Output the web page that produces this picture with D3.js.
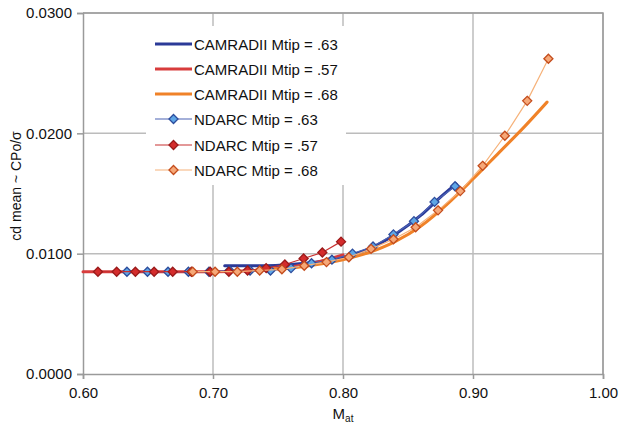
<!DOCTYPE html>
<html>
<head>
<meta charset="utf-8">
<script src="https://cdn.jsdelivr.net/npm/d3@7"></script>
<style>
  html, body { margin: 0; padding: 0; background: #fff; }
  svg { display: block; font-family: "Liberation Sans", Arial, Helvetica, sans-serif; }
</style>
</head>
<body>
<svg id="chart" width="620" height="427"></svg>
<script>
// CAMRADII (thick curves)
const camMach63 = [0.709, 0.74, 0.76, 0.78, 0.80, 0.82, 0.84, 0.86, 0.875, 0.887];
const camCd63   = [0.0090, 0.0090, 0.0091, 0.0093, 0.0097, 0.0104, 0.0116, 0.0132, 0.0147, 0.0158];
const camMach57 = [0.60, 0.65, 0.70, 0.73, 0.76, 0.78, 0.80];
const camCd57   = [0.0085, 0.0085, 0.0085, 0.0086, 0.0089, 0.0093, 0.0099];
const camMach68 = [0.74, 0.76, 0.78, 0.80, 0.82, 0.84, 0.86, 0.88, 0.90, 0.92, 0.94, 0.957];
const camCd68   = [0.0087, 0.0088, 0.0091, 0.0095, 0.0101, 0.0110, 0.0123, 0.0141, 0.0162, 0.0184, 0.0206, 0.0226];

// NDARC (markers with thin connecting lines)
const ndMach63 = [0.6338, 0.6496, 0.6654, 0.6811, 0.6969, 0.7127, 0.7285, 0.7442, 0.7600, 0.7758, 0.7915, 0.8073, 0.8231, 0.8388, 0.8546, 0.8704, 0.8862];
const ndCd63   = [0.0085, 0.0085, 0.0085, 0.0085, 0.0085, 0.0086, 0.0086, 0.0086, 0.0088, 0.0092, 0.0095, 0.0100, 0.0106, 0.0116, 0.0127, 0.0143, 0.0156];
const ndMach57 = [0.6115, 0.6259, 0.6403, 0.6547, 0.6690, 0.6834, 0.6978, 0.7122, 0.7266, 0.7409, 0.7553, 0.7697, 0.7841, 0.7985];
const ndCd57   = [0.0085, 0.0085, 0.0085, 0.0085, 0.0085, 0.0085, 0.0085, 0.0085, 0.0086, 0.0088, 0.0091, 0.0096, 0.0101, 0.0110];
const ndMach68 = [0.6844, 0.7016, 0.7187, 0.7359, 0.7530, 0.7702, 0.7873, 0.8045, 0.8216, 0.8388, 0.8559, 0.8731, 0.8902, 0.9074, 0.9245, 0.9417, 0.9580];
const ndCd68   = [0.0085, 0.0085, 0.0085, 0.0086, 0.0087, 0.0090, 0.0093, 0.0097, 0.0104, 0.0112, 0.0122, 0.0136, 0.0152, 0.0173, 0.0198, 0.0227, 0.0262];

const xTicks = [0.60, 0.70, 0.80, 0.90, 1.00];
const yTicks = [0.0000, 0.0100, 0.0200, 0.0300];

const legendLabels = [
  "CAMRADII Mtip = .63", "CAMRADII Mtip = .57", "CAMRADII Mtip = .68",
  "NDARC Mtip = .63", "NDARC Mtip = .57", "NDARC Mtip = .68"
];

const zip = (xs, ys) => xs.map((x, i) => ({ x, y: ys[i] }));

const series = [
  { kind: "cam", data: zip(camMach63, camCd63), stroke: "#2b3a98" },
  { kind: "cam", data: zip(camMach57, camCd57), stroke: "#d83c3c" },
  { kind: "cam", data: zip(camMach68, camCd68), stroke: "#f08228" },
  { kind: "nd", data: zip(ndMach63, ndCd63), stroke: "#4a62b4", fill: "#5ea6e6", edge: "#2c4c9c" },
  { kind: "nd", data: zip(ndMach57, ndCd57), stroke: "#c83232", fill: "#d42c2c", edge: "#9a1a1a" },
  { kind: "nd", data: zip(ndMach68, ndCd68), stroke: "#f6b27a", fill: "#f6a878", edge: "#c44c1c" }
];

const margin = { left: 83, right: 17, top: 13, bottom: 53 };
const W = 620, H = 427;
const svg = d3.select("#chart");

const x = d3.scaleLinear().domain([0.6, 1.0]).range([margin.left, W - margin.right]);
const y = d3.scaleLinear().domain([0, 0.03]).range([H - margin.bottom, margin.top]);

const gridColor = "#bcbcbc";
const axisColor = "#9a9a9a";

// gridlines
svg.append("g").selectAll("line").data(xTicks.slice(1)).join("line")
  .attr("x1", d => x(d)).attr("x2", d => x(d))
  .attr("y1", y(0)).attr("y2", y(0.03))
  .attr("stroke", gridColor).attr("stroke-width", 1.5);
svg.append("g").selectAll("line").data(yTicks.slice(1)).join("line")
  .attr("x1", x(0.6)).attr("x2", x(1.0))
  .attr("y1", d => y(d)).attr("y2", d => y(d))
  .attr("stroke", gridColor).attr("stroke-width", 1.5);

// axes
const xAxis = d3.axisBottom(x).tickValues(xTicks).tickFormat(d3.format(".2f")).tickSize(5).tickPadding(8);
const yAxis = d3.axisLeft(y).tickValues(yTicks).tickFormat(d3.format(".4f")).tickSize(6).tickPadding(5);

const gx = svg.append("g").attr("transform", `translate(0,${y(0)})`).call(xAxis);
const gy = svg.append("g").attr("transform", `translate(${x(0.6)},0)`).call(yAxis);
[gx, gy].forEach(g => {
  g.select(".domain").attr("stroke", axisColor).attr("stroke-width", 1.5);
  g.selectAll(".tick line").attr("stroke", axisColor).attr("stroke-width", 1.5);
  g.selectAll(".tick text").attr("fill", "#111").style("font-size", "15px")
    .style("font-family", '"Liberation Sans", Arial, sans-serif');
});

// legend background (hides gridlines behind it)
const lg = svg.append("g");
lg.append("rect").attr("x", 146).attr("y", 26).attr("width", 200).attr("height", 159).attr("fill", "#fff");

// series
const lineCurve = d3.line().x(d => x(d.x)).y(d => y(d.y)).curve(d3.curveMonotoneX);
const lineStraight = d3.line().x(d => x(d.x)).y(d => y(d.y));
const diamond = d3.symbol().type(d3.symbolDiamond2).size(52);

series.filter(s => s.kind === "cam").forEach(s => {
  svg.append("path").datum(s.data).attr("d", lineCurve)
    .attr("fill", "none").attr("stroke", s.stroke).attr("stroke-width", 3)
    .attr("stroke-linejoin", "round").attr("stroke-linecap", "round");
});
series.filter(s => s.kind === "nd").forEach(s => {
  svg.append("path").datum(s.data).attr("d", lineStraight)
    .attr("fill", "none").attr("stroke", s.stroke).attr("stroke-width", 1.2);
  svg.append("g").selectAll("path").data(s.data).join("path")
    .attr("transform", d => `translate(${x(d.x)},${y(d.y)})`)
    .attr("d", diamond)
    .attr("fill", s.fill).attr("stroke", s.edge).attr("stroke-width", 1.3);
});

// plot frame (top and right)
svg.append("path")
  .attr("d", `M${x(0.6)},${y(0.03)}H${x(1.0)}V${y(0)}`)
  .attr("fill", "none").attr("stroke", axisColor).attr("stroke-width", 1.5);

// legend entries
const rowY = [44, 69, 94, 119, 145, 170];
legendLabels.forEach((lab, i) => {
  const s = series[i];
  const ry = rowY[i];
  const g = lg.append("g");
  g.append("line").attr("x1", 155).attr("x2", 192).attr("y1", ry).attr("y2", ry)
    .attr("stroke", s.stroke).attr("stroke-width", s.kind === "cam" ? 3 : 1.2);
  if (s.kind === "nd") {
    g.append("path").attr("transform", `translate(173.5,${ry})`).attr("d", diamond)
      .attr("fill", s.fill).attr("stroke", s.edge).attr("stroke-width", 1.3);
  }
  g.append("text").attr("x", 194).attr("y", ry + 5.5).text(lab)
    .attr("fill", "#111").style("font-size", "15px");
});

// axis titles
const xt = svg.append("text").attr("x", x(0.8)).attr("y", 419).attr("text-anchor", "middle")
  .attr("fill", "#111").style("font-size", "15px");
xt.append("tspan").text("M");
xt.append("tspan").attr("dy", 3).style("font-size", "10px").text("at");

svg.append("text").attr("transform", "translate(21,186) rotate(-90)")
  .attr("text-anchor", "middle").attr("fill", "#111").style("font-size", "14px")
  .text("cd mean ~ CPo/σ");
</script>
</body>
</html>
